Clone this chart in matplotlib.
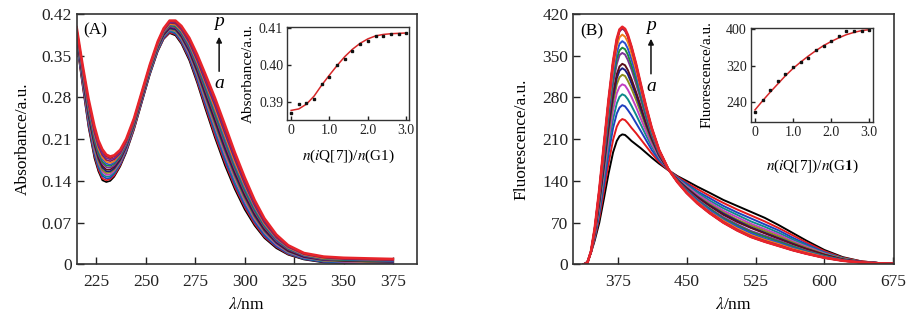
import matplotlib.pyplot as plt

plt.rcParams['font.family'] = ['Liberation Serif', 'DejaVu Serif']
plt.rcParams['mathtext.fontset'] = 'stix'
plt.rcParams['axes.linewidth'] = 1.2

# titration ratio n(iQ[7])/n(G1) for spectra a..p
ratio = [0, 0.2, 0.4, 0.6, 0.8, 1.0, 1.2, 1.4, 1.6, 1.8, 2.0, 2.2, 2.4, 2.6, 2.8, 3.0]

# inset A: absorbance points and fitted curve
abs_points = [0.3870, 0.3894, 0.3897, 0.3906, 0.3947, 0.3967, 0.3999, 0.4016,
              0.4037, 0.4057, 0.4064, 0.4078, 0.4078, 0.4082, 0.4083, 0.4086]
abs_fit = [0.3876, 0.3880, 0.3893, 0.3915, 0.3945, 0.3972, 0.3998, 0.4022,
           0.4042, 0.4058, 0.4070, 0.4078, 0.4082, 0.4084, 0.4085, 0.4086]

# inset B: fluorescence points and fitted curve
fl_points = [218, 243.7, 267, 285.3, 302, 318, 329, 336.4,
             354.7, 363.5, 374.4, 385.4, 395.6, 396.3, 397, 398.5]
fl_fit = [223, 243, 262, 280, 298, 314, 328, 341,
          353, 364, 373, 381, 388, 393, 397, 399]

# UV-vis spectra a..p
wl_abs = [215, 218, 221, 224, 226, 228, 230, 232, 234, 237, 240, 244, 248, 252, 256, 259, 262, 265,
          268, 272, 276, 280, 285, 290, 295, 300, 305, 310, 316, 322, 330, 340, 350, 362, 375]
absorbance = [
    [.372, .300, .230, .178, .156, .141, .138, .140, .147, .164, .187, .226, .272, .318, .357, .378, .388, .384,
     .370, .342, .304, .262, .212, .166, .126, .092, .065, .044, .027, .016, .008, .003, .002, .001, .001],
    [.374, .302, .233, .182, .159, .144, .141, .143, .149, .166, .189, .227, .273, .319, .358, .379, .389, .386,
     .372, .345, .307, .266, .216, .171, .130, .096, .068, .046, .029, .017, .009, .004, .003, .002, .002],
    [.375, .305, .236, .185, .163, .148, .144, .145, .152, .168, .190, .229, .274, .320, .359, .380, .391, .387,
     .374, .347, .310, .270, .221, .175, .134, .099, .071, .048, .030, .018, .009, .004, .003, .002, .002],
    [.377, .307, .240, .189, .166, .151, .147, .148, .154, .170, .192, .230, .276, .321, .360, .382, .392, .389,
     .376, .350, .314, .274, .225, .180, .138, .103, .074, .051, .032, .019, .010, .005, .004, .003, .003],
    [.379, .309, .243, .192, .170, .155, .150, .151, .157, .171, .193, .231, .277, .323, .362, .383, .394, .391,
     .378, .352, .317, .277, .230, .184, .143, .106, .076, .053, .033, .020, .011, .006, .004, .003, .003],
    [.381, .312, .246, .196, .173, .158, .153, .154, .159, .173, .195, .232, .278, .324, .363, .384, .395, .392,
     .380, .355, .320, .281, .234, .189, .147, .110, .079, .055, .035, .021, .012, .006, .005, .004, .004],
    [.382, .314, .249, .200, .177, .162, .156, .156, .161, .175, .196, .234, .279, .325, .364, .385, .396, .394,
     .382, .357, .323, .285, .239, .193, .151, .114, .082, .057, .036, .022, .012, .007, .006, .005, .004],
    [.384, .316, .252, .203, .180, .165, .159, .159, .164, .177, .198, .235, .280, .326, .365, .386, .398, .396,
     .384, .360, .326, .289, .243, .198, .155, .117, .085, .059, .038, .023, .013, .008, .006, .005, .005],
    [.386, .319, .256, .207, .184, .169, .163, .162, .166, .179, .199, .236, .282, .327, .366, .388, .399, .397,
     .386, .362, .330, .293, .248, .202, .159, .121, .088, .062, .039, .025, .014, .008, .007, .006, .005],
    [.388, .321, .259, .210, .187, .172, .166, .165, .169, .181, .201, .237, .283, .328, .367, .389, .401, .399,
     .388, .365, .333, .297, .252, .207, .163, .124, .091, .064, .041, .026, .015, .009, .007, .006, .006],
    [.389, .323, .262, .214, .191, .176, .169, .167, .171, .183, .202, .239, .284, .329, .368, .390, .402, .401,
     .390, .367, .336, .301, .257, .211, .167, .128, .094, .066, .042, .027, .015, .010, .008, .007, .006],
    [.391, .326, .265, .218, .194, .179, .172, .170, .173, .185, .204, .240, .285, .330, .369, .391, .403, .402,
     .392, .370, .339, .305, .261, .216, .171, .132, .097, .068, .044, .028, .016, .010, .009, .008, .007],
    [.393, .328, .268, .221, .198, .183, .175, .173, .176, .186, .205, .241, .286, .332, .371, .392, .405, .404,
     .394, .372, .342, .308, .266, .220, .176, .135, .099, .070, .045, .029, .017, .011, .009, .008, .007],
    [.395, .330, .272, .225, .201, .186, .178, .176, .178, .188, .207, .242, .288, .333, .372, .394, .406, .406,
     .396, .375, .346, .312, .270, .225, .180, .139, .102, .073, .047, .030, .018, .012, .010, .009, .008],
    [.396, .333, .275, .228, .205, .190, .181, .178, .181, .190, .208, .244, .289, .334, .373, .395, .408, .407,
     .398, .377, .349, .316, .275, .229, .184, .142, .105, .075, .048, .031, .018, .012, .010, .009, .008],
    [.398, .335, .278, .232, .208, .193, .184, .181, .183, .192, .210, .245, .290, .335, .374, .396, .409, .409,
     .400, .380, .352, .320, .279, .234, .188, .146, .108, .077, .050, .032, .019, .013, .011, .010, .009],
]

# emission spectra a..p
wl_fl = [338, 342, 346, 350, 355, 360, 365, 370, 374, 377, 380, 383, 386, 390, 395, 400, 406, 412,
         420, 430, 440, 450, 462, 475, 490, 505, 520, 535, 550, 565, 580, 600, 620, 640, 660, 675]
fluorescence = [
    [0, 4, 20, 40, 70, 110, 152, 188, 207, 215, 218, 217, 213, 207, 201, 195, 187, 179,
     169, 158, 148, 140, 130, 120, 108, 98, 88, 78, 66, 53, 40, 24, 12, 5, 2, 1],
    [0, 4, 20, 43, 78, 123, 169, 209, 231, 240, 243.7, 242, 237, 229, 220, 210, 198, 186,
     172, 158, 147, 137, 126, 115, 103, 92, 82, 72, 61, 49, 37, 22, 11, 5, 2, 1],
    [0, 3, 21, 45, 85, 134, 185, 229, 253, 263, 267, 265, 259, 250, 237, 224, 208, 192,
     175, 159, 145, 135, 122, 111, 98, 87, 77, 67, 57, 45, 34, 20, 10, 4, 2, 1],
    [0, 3, 21, 47, 90, 143, 198, 244, 270, 281, 285.3, 283, 277, 266, 251, 235, 216, 198,
     178, 159, 144, 133, 120, 107, 94, 83, 72, 63, 53, 42, 32, 19, 10, 4, 2, 1],
    [0, 3, 21, 49, 96, 152, 209, 259, 287, 298, 302, 300, 293, 281, 264, 245, 223, 202,
     180, 159, 143, 131, 117, 104, 90, 79, 68, 59, 50, 39, 30, 18, 9, 4, 2, 1],
    [0, 3, 21, 51, 101, 160, 220, 272, 302, 314, 318, 316, 308, 295, 276, 255, 230, 207,
     182, 159, 142, 129, 114, 101, 87, 75, 65, 56, 47, 37, 28, 17, 9, 4, 2, 1],
    [0, 3, 21, 52, 104, 165, 228, 281, 312, 325, 329, 326, 319, 304, 284, 261, 234, 210,
     183, 159, 142, 128, 113, 99, 85, 73, 62, 53, 44, 35, 26, 16, 8, 4, 2, 1],
    [0, 3, 21, 53, 106, 169, 233, 288, 319, 332, 336.4, 334, 326, 311, 289, 266, 237, 212,
     184, 159, 141, 127, 112, 98, 83, 71, 61, 52, 43, 34, 26, 16, 8, 4, 2, 1],
    [0, 3, 22, 55, 112, 178, 245, 303, 336, 351, 354.7, 352, 343, 327, 303, 277, 245, 217,
     186, 160, 140, 125, 109, 94, 79, 67, 56, 48, 40, 31, 23, 14, 7, 4, 2, 1],
    [0, 2, 22, 56, 114, 183, 251, 311, 345, 359, 363.5, 361, 352, 334, 310, 282, 249, 219,
     188, 160, 140, 124, 107, 93, 77, 65, 54, 46, 38, 30, 22, 14, 7, 3, 2, 1],
    [0, 2, 22, 57, 118, 188, 259, 320, 355, 370, 374.4, 371, 362, 344, 318, 289, 254, 222,
     189, 160, 139, 123, 106, 91, 75, 63, 52, 43, 36, 28, 21, 13, 7, 3, 2, 1],
    [0, 2, 22, 59, 121, 194, 266, 329, 366, 381, 385.4, 382, 373, 354, 326, 295, 259, 225,
     190, 160, 139, 121, 104, 88, 73, 60, 49, 41, 34, 26, 20, 12, 6, 3, 2, 1],
    [0, 2, 22, 60, 124, 199, 273, 338, 375, 391, 395.6, 392, 382, 363, 334, 301, 263, 228,
     192, 160, 138, 120, 102, 87, 71, 58, 47, 39, 32, 24, 18, 11, 6, 3, 1.5, 1],
    [0, 2, 22, 60, 124, 199, 274, 339, 376, 392, 396.3, 393, 383, 364, 335, 302, 263, 228,
     192, 160, 138, 120, 102, 86, 70, 57, 46, 38, 31, 24, 18, 11, 6, 3, 1.5, 1],
    [0, 2, 22, 60, 125, 200, 274, 339, 377, 393, 397, 394, 384, 365, 335, 302, 264, 229,
     192, 160, 138, 120, 102, 86, 70, 57, 46, 38, 31, 24, 18, 11, 6, 3, 1.5, 1],
    [0, 2, 22, 60, 125, 200, 275, 340, 378, 394, 398.5, 395, 385, 365, 336, 303, 264, 229,
     192, 160, 138, 120, 102, 86, 70, 57, 46, 38, 31, 24, 18, 11, 6, 3, 1.5, 1],
]

colors = ['#000000', '#e41a1c', '#1f3fbf', '#0f8a8a', '#c23fc2', '#8c8c1a', '#1a1a80', '#5a0f1a',
          '#7b3294', '#1a8a3a', '#2a4fd0', '#f07f1a', '#8b1a4a', '#6a2a9a', '#b01a2a', '#e8242a']

abs_ticks = [0, 0.07, 0.14, 0.21, 0.28, 0.35, 0.42]
abs_ticklabels = ['0', '0.07', '0.14', '0.21', '0.28', '0.35', '0.42']
fl_ticks = [0, 70, 140, 210, 280, 350, 420]


def style_axes(ax, size, length):
    ax.tick_params(direction='in', length=length, width=1, top=False, right=False,
                   labelsize=size, colors='#222222')
    for s in ax.spines.values():
        s.set_color('#333333')


def draw_inset(ax, y, fit, ylim, yticks, yticklabels, ylabel, xlabel):
    ax.plot(ratio, fit, color='#d62728', lw=1.1)
    ax.plot(ratio, y, 's', color='#111111', ms=1.7, ls='none')
    ax.set_xlim(-0.1, 3.08)
    ax.set_ylim(*ylim)
    ax.set_xticks([0, 1, 2, 3], ['0', '1.0', '2.0', '3.0'])
    ax.set_yticks(yticks, yticklabels)
    style_axes(ax, 10, 3)
    ax.tick_params(pad=3)
    ax.set_ylabel(ylabel, fontsize=11)
    ax.set_xlabel(xlabel, fontsize=11)
    for s in ax.spines.values():
        s.set_linewidth(1.0)


fig = plt.figure(figsize=(9.17, 3.25), dpi=100)

# (A) absorbance
ax1 = fig.add_axes([0.0836, 0.1868, 0.3708, 0.7701])
for i, row in enumerate(absorbance):
    ax1.plot(wl_abs, row, color=colors[i], lw=1.8 if i == 15 else 1.2)
ax1.set_xlim(215, 387)
ax1.set_ylim(0, 0.42)
ax1.set_xticks([225, 250, 275, 300, 325, 350, 375])
ax1.set_yticks(abs_ticks, abs_ticklabels)
style_axes(ax1, 12.5, 5)
ax1.tick_params(axis='x', pad=7)
ax1.set_ylabel('Absorbance/a.u.', fontsize=12.5)
ax1.set_xlabel(r'$\lambda$/nm', fontsize=12.5)
ax1.yaxis.set_label_coords(-0.136, 0.5)
ax1.xaxis.set_label_coords(0.5, -0.13)
ax1.text(0.02, 0.936, '(A)', transform=ax1.transAxes, fontsize=12.5, va='center', ha='left')
ax1.text(0.419, 0.969, 'p', transform=ax1.transAxes, fontsize=14, style='italic', ha='center', va='center')
ax1.text(0.419, 0.722, 'a', transform=ax1.transAxes, fontsize=14, style='italic', ha='center', va='center')
ax1.annotate('', xy=(0.419, 0.92), xytext=(0.419, 0.76), xycoords='axes fraction',
             arrowprops=dict(arrowstyle='-|>', color='#111111', lw=1.1, mutation_scale=8))

ins1 = fig.add_axes([0.3133, 0.6308, 0.1330, 0.2870])
draw_inset(ins1, abs_points, abs_fit, (0.385, 0.4103), [0.39, 0.40, 0.41], ['0.39', '0.40', '0.41'],
           'Absorbance/a.u.', r'$n$($i$Q[7])/$n$(G1)')
ins1.yaxis.set_label_coords(-0.27, 0.5)
ins1.xaxis.set_label_coords(0.5, -0.30)

# (B) fluorescence
ax2 = fig.add_axes([0.6252, 0.1868, 0.3500, 0.7701])
for i, row in enumerate(fluorescence):
    ax2.plot(wl_fl, row, color=colors[i], lw=1.9 if i == 15 else 1.4)
ax2.set_xlim(326.7, 676)
ax2.set_ylim(0, 420)
ax2.set_xticks([375, 450, 525, 600, 675])
ax2.set_yticks(fl_ticks)
style_axes(ax2, 12.5, 5)
ax2.tick_params(axis='x', pad=7)
ax2.set_ylabel('Fluorescence/a.u.', fontsize=12.5)
ax2.set_xlabel(r'$\lambda$/nm', fontsize=12.5)
ax2.yaxis.set_label_coords(-0.138, 0.5)
ax2.xaxis.set_label_coords(0.5, -0.13)
ax2.text(0.021, 0.929, '(B)', transform=ax2.transAxes, fontsize=12.5, va='center', ha='left')
ax2.text(0.242, 0.956, 'p', transform=ax2.transAxes, fontsize=14, style='italic', ha='center', va='center')
ax2.text(0.242, 0.71, 'a', transform=ax2.transAxes, fontsize=14, style='italic', ha='center', va='center')
ax2.annotate('', xy=(0.242, 0.912), xytext=(0.242, 0.75), xycoords='axes fraction',
             arrowprops=dict(arrowstyle='-|>', color='#111111', lw=1.1, mutation_scale=8))

ins2 = fig.add_axes([0.8190, 0.6255, 0.1334, 0.2874])
draw_inset(ins2, fl_points, fl_fit, (197, 402), [240, 320, 400], ['240', '320', '400'],
           'Fluorescence/a.u.', r'$n$($i$Q[7])/$n$(G$\mathbf{1}$)')
ins2.set_xlim(-0.105, 3.11)
ins2.yaxis.set_label_coords(-0.31, 0.5)
ins2.xaxis.set_label_coords(0.5, -0.39)

fig.savefig('out.png', dpi=100)
